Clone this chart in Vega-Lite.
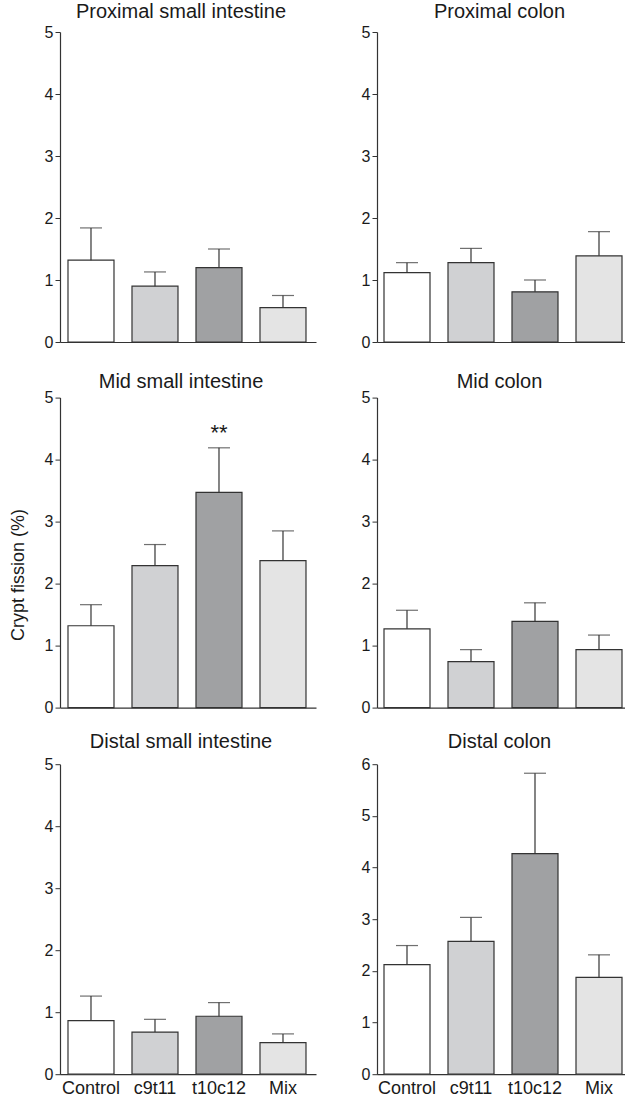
{
  "$schema": "https://vega.github.io/schema/vega-lite/v6.json",
  "padding": {"left": 9, "top": 1, "right": 0, "bottom": 0},
  "background": "white",
  "config": {
    "font": "Liberation Sans",
    "view": {"stroke": null},
    "axis": {"grid": false, "domainColor": "#333333", "tickColor": "#333333", "labelColor": "#1a1a1a", "titleColor": "#1a1a1a", "labelFont": "Liberation Sans", "titleFont": "Liberation Sans"},
    "axisY": {"titleFontSize": 18, "titleFontWeight": "normal", "titlePadding": 16.8},
    "title": {"font": "Liberation Sans", "fontSize": 20, "fontWeight": "normal", "color": "#1a1a1a", "anchor": "middle", "frame": "group", "baseline": "alphabetic"}
  },
  "datasets": {
    "d": [
      {"panel": "PSI", "group": "Control", "mean": 1.32, "upper": 1.84},
      {"panel": "PSI", "group": "c9t11", "mean": 0.90, "upper": 1.13},
      {"panel": "PSI", "group": "t10c12", "mean": 1.20, "upper": 1.50},
      {"panel": "PSI", "group": "Mix", "mean": 0.555, "upper": 0.75},
      {"panel": "PC", "group": "Control", "mean": 1.12, "upper": 1.28},
      {"panel": "PC", "group": "c9t11", "mean": 1.28, "upper": 1.51},
      {"panel": "PC", "group": "t10c12", "mean": 0.81, "upper": 1.00},
      {"panel": "PC", "group": "Mix", "mean": 1.39, "upper": 1.78},
      {"panel": "MSI", "group": "Control", "mean": 1.32, "upper": 1.66},
      {"panel": "MSI", "group": "c9t11", "mean": 2.29, "upper": 2.63},
      {"panel": "MSI", "group": "t10c12", "mean": 3.47, "upper": 4.19, "sig": "**"},
      {"panel": "MSI", "group": "Mix", "mean": 2.37, "upper": 2.85},
      {"panel": "MC", "group": "Control", "mean": 1.27, "upper": 1.57},
      {"panel": "MC", "group": "c9t11", "mean": 0.74, "upper": 0.935},
      {"panel": "MC", "group": "t10c12", "mean": 1.39, "upper": 1.69},
      {"panel": "MC", "group": "Mix", "mean": 0.935, "upper": 1.17},
      {"panel": "DSI", "group": "Control", "mean": 0.865, "upper": 1.26},
      {"panel": "DSI", "group": "c9t11", "mean": 0.68, "upper": 0.885},
      {"panel": "DSI", "group": "t10c12", "mean": 0.935, "upper": 1.155},
      {"panel": "DSI", "group": "Mix", "mean": 0.51, "upper": 0.65},
      {"panel": "DC", "group": "Control", "mean": 2.12, "upper": 2.49},
      {"panel": "DC", "group": "c9t11", "mean": 2.57, "upper": 3.035},
      {"panel": "DC", "group": "t10c12", "mean": 4.27, "upper": 5.825},
      {"panel": "DC", "group": "Mix", "mean": 1.875, "upper": 2.31}
    ]
  },
  "columns": 2,
  "spacing": {"row": 16.6, "column": 45},
  "concat": [
    {
      "title": {"text": "Proximal small intestine", "offset": 2.5, "dx": -7},
      "width": 256, "height": 310,
      "data": {"name": "d"},
      "transform": [{"filter": "datum.panel === 'PSI'"}],
      "encoding": {"x": {"field": "group", "type": "nominal", "sort": ["Control", "c9t11", "t10c12", "Mix"], "scale": {"paddingInner": 0.28125, "paddingOuter": 0.140625, "align": 0.444}, "axis": {"title": null, "labels": false, "ticks": false, "domainWidth": 1.2}}},
      "layer": [
        {"mark": {"type": "bar", "stroke": "#333333", "strokeWidth": 1.2}, "encoding": {"y": {"field": "mean", "type": "quantitative", "title": null, "scale": {"domain": [0, 5], "nice": false}, "axis": {"values": [0, 1, 2, 3, 4, 5], "format": "d", "labelFontSize": 16, "tickSize": 5, "labelPadding": 2, "domainWidth": 1.2}}, "fill": {"field": "group", "type": "nominal", "scale": {"domain": ["Control", "c9t11", "t10c12", "Mix"], "range": ["#ffffff", "#d0d1d3", "#a0a1a3", "#e4e4e4"]}, "legend": null}}},
        {"mark": {"type": "rule", "color": "#333333", "strokeWidth": 1.2}, "encoding": {"y": {"field": "mean", "type": "quantitative", "title": null}, "y2": {"field": "upper"}}},
        {"mark": {"type": "tick", "color": "#333333", "thickness": 1.2, "size": 22}, "encoding": {"y": {"field": "upper", "type": "quantitative", "title": null}}}
      ]
    },
    {
      "title": {"text": "Proximal colon", "offset": 2.5, "dx": -1.5},
      "width": 248, "height": 310,
      "data": {"name": "d"},
      "transform": [{"filter": "datum.panel === 'PC'"}],
      "encoding": {"x": {"field": "group", "type": "nominal", "sort": ["Control", "c9t11", "t10c12", "Mix"], "scale": {"paddingInner": 0.28125, "paddingOuter": 0.078125, "align": 0.7}, "axis": {"title": null, "labels": false, "ticks": false, "domainWidth": 1.2}}},
      "layer": [
        {"mark": {"type": "bar", "stroke": "#333333", "strokeWidth": 1.2}, "encoding": {"y": {"field": "mean", "type": "quantitative", "title": null, "scale": {"domain": [0, 5], "nice": false}, "axis": {"values": [0, 1, 2, 3, 4, 5], "format": "d", "labelFontSize": 16, "tickSize": 5, "labelPadding": 2, "domainWidth": 1.2}}, "fill": {"field": "group", "type": "nominal", "scale": {"domain": ["Control", "c9t11", "t10c12", "Mix"], "range": ["#ffffff", "#d0d1d3", "#a0a1a3", "#e4e4e4"]}, "legend": null}}},
        {"mark": {"type": "rule", "color": "#333333", "strokeWidth": 1.2}, "encoding": {"y": {"field": "mean", "type": "quantitative", "title": null}, "y2": {"field": "upper"}}},
        {"mark": {"type": "tick", "color": "#333333", "thickness": 1.2, "size": 22}, "encoding": {"y": {"field": "upper", "type": "quantitative", "title": null}}}
      ]
    },
    {
      "title": {"text": ["", "Mid small intestine"], "baseline": "bottom", "lineHeight": 5.3, "offset": -22.4, "dx": -7},
      "width": 256, "height": 310,
      "data": {"name": "d"},
      "transform": [{"filter": "datum.panel === 'MSI'"}],
      "encoding": {"x": {"field": "group", "type": "nominal", "sort": ["Control", "c9t11", "t10c12", "Mix"], "scale": {"paddingInner": 0.28125, "paddingOuter": 0.140625, "align": 0.444}, "axis": {"title": null, "labels": false, "ticks": false, "domainWidth": 1.2}}},
      "layer": [
        {"mark": {"type": "bar", "stroke": "#333333", "strokeWidth": 1.2}, "encoding": {"y": {"field": "mean", "type": "quantitative", "title": "Crypt fission (%)", "scale": {"domain": [0, 5], "nice": false}, "axis": {"values": [0, 1, 2, 3, 4, 5], "format": "d", "labelFontSize": 16, "tickSize": 5, "labelPadding": 2, "domainWidth": 1.2, "titleFontSize": 18, "titleFontWeight": "normal", "titlePadding": 16.8, "titleY": 177}}, "fill": {"field": "group", "type": "nominal", "scale": {"domain": ["Control", "c9t11", "t10c12", "Mix"], "range": ["#ffffff", "#d0d1d3", "#a0a1a3", "#e4e4e4"]}, "legend": null}}},
        {"mark": {"type": "rule", "color": "#333333", "strokeWidth": 1.2}, "encoding": {"y": {"field": "mean", "type": "quantitative", "title": "Crypt fission (%)"}, "y2": {"field": "upper"}}},
        {"mark": {"type": "tick", "color": "#333333", "thickness": 1.2, "size": 22}, "encoding": {"y": {"field": "upper", "type": "quantitative", "title": "Crypt fission (%)"}}},
        {"transform": [{"filter": "datum.sig != null"}], "mark": {"type": "text", "fontSize": 22, "baseline": "alphabetic", "dy": -8, "color": "#1a1a1a"}, "encoding": {"y": {"field": "upper", "type": "quantitative", "title": "Crypt fission (%)"}, "text": {"field": "sig"}}}
      ]
    },
    {
      "title": {"text": ["", "Mid colon"], "baseline": "bottom", "lineHeight": 5.3, "offset": -22.4, "dx": -1.5},
      "width": 248, "height": 310,
      "data": {"name": "d"},
      "transform": [{"filter": "datum.panel === 'MC'"}],
      "encoding": {"x": {"field": "group", "type": "nominal", "sort": ["Control", "c9t11", "t10c12", "Mix"], "scale": {"paddingInner": 0.28125, "paddingOuter": 0.078125, "align": 0.7}, "axis": {"title": null, "labels": false, "ticks": false, "domainWidth": 1.2}}},
      "layer": [
        {"mark": {"type": "bar", "stroke": "#333333", "strokeWidth": 1.2}, "encoding": {"y": {"field": "mean", "type": "quantitative", "title": null, "scale": {"domain": [0, 5], "nice": false}, "axis": {"values": [0, 1, 2, 3, 4, 5], "format": "d", "labelFontSize": 16, "tickSize": 5, "labelPadding": 2, "domainWidth": 1.2}}, "fill": {"field": "group", "type": "nominal", "scale": {"domain": ["Control", "c9t11", "t10c12", "Mix"], "range": ["#ffffff", "#d0d1d3", "#a0a1a3", "#e4e4e4"]}, "legend": null}}},
        {"mark": {"type": "rule", "color": "#333333", "strokeWidth": 1.2}, "encoding": {"y": {"field": "mean", "type": "quantitative", "title": null}, "y2": {"field": "upper"}}},
        {"mark": {"type": "tick", "color": "#333333", "thickness": 1.2, "size": 22}, "encoding": {"y": {"field": "upper", "type": "quantitative", "title": null}}}
      ]
    },
    {
      "title": {"text": "Distal small intestine", "offset": 4, "dx": -7},
      "width": 256, "height": 310,
      "data": {"name": "d"},
      "transform": [{"filter": "datum.panel === 'DSI'"}],
      "encoding": {"x": {"field": "group", "type": "nominal", "sort": ["Control", "c9t11", "t10c12", "Mix"], "scale": {"paddingInner": 0.28125, "paddingOuter": 0.140625, "align": 0.444}, "axis": {"title": null, "labelAngle": 0, "labelFontSize": 18, "labelPadding": 5, "ticks": false, "domainWidth": 1.2}}},
      "layer": [
        {"mark": {"type": "bar", "stroke": "#333333", "strokeWidth": 1.2}, "encoding": {"y": {"field": "mean", "type": "quantitative", "title": null, "scale": {"domain": [0, 5], "nice": false}, "axis": {"values": [0, 1, 2, 3, 4, 5], "format": "d", "labelFontSize": 16, "tickSize": 5, "labelPadding": 2, "domainWidth": 1.2}}, "fill": {"field": "group", "type": "nominal", "scale": {"domain": ["Control", "c9t11", "t10c12", "Mix"], "range": ["#ffffff", "#d0d1d3", "#a0a1a3", "#e4e4e4"]}, "legend": null}}},
        {"mark": {"type": "rule", "color": "#333333", "strokeWidth": 1.2}, "encoding": {"y": {"field": "mean", "type": "quantitative", "title": null}, "y2": {"field": "upper"}}},
        {"mark": {"type": "tick", "color": "#333333", "thickness": 1.2, "size": 22}, "encoding": {"y": {"field": "upper", "type": "quantitative", "title": null}}}
      ]
    },
    {
      "title": {"text": "Distal colon", "offset": 4, "dx": -1.5},
      "width": 248, "height": 310,
      "data": {"name": "d"},
      "transform": [{"filter": "datum.panel === 'DC'"}],
      "encoding": {"x": {"field": "group", "type": "nominal", "sort": ["Control", "c9t11", "t10c12", "Mix"], "scale": {"paddingInner": 0.28125, "paddingOuter": 0.078125, "align": 0.7}, "axis": {"title": null, "labelAngle": 0, "labelFontSize": 18, "labelPadding": 5, "ticks": false, "domainWidth": 1.2}}},
      "layer": [
        {"mark": {"type": "bar", "stroke": "#333333", "strokeWidth": 1.2}, "encoding": {"y": {"field": "mean", "type": "quantitative", "title": null, "scale": {"domain": [0, 6], "nice": false}, "axis": {"values": [0, 1, 2, 3, 4, 5, 6], "format": "d", "labelFontSize": 16, "tickSize": 5, "labelPadding": 2, "domainWidth": 1.2}}, "fill": {"field": "group", "type": "nominal", "scale": {"domain": ["Control", "c9t11", "t10c12", "Mix"], "range": ["#ffffff", "#d0d1d3", "#a0a1a3", "#e4e4e4"]}, "legend": null}}},
        {"mark": {"type": "rule", "color": "#333333", "strokeWidth": 1.2}, "encoding": {"y": {"field": "mean", "type": "quantitative", "title": null}, "y2": {"field": "upper"}}},
        {"mark": {"type": "tick", "color": "#333333", "thickness": 1.2, "size": 22}, "encoding": {"y": {"field": "upper", "type": "quantitative", "title": null}}}
      ]
    }
  ]
}
